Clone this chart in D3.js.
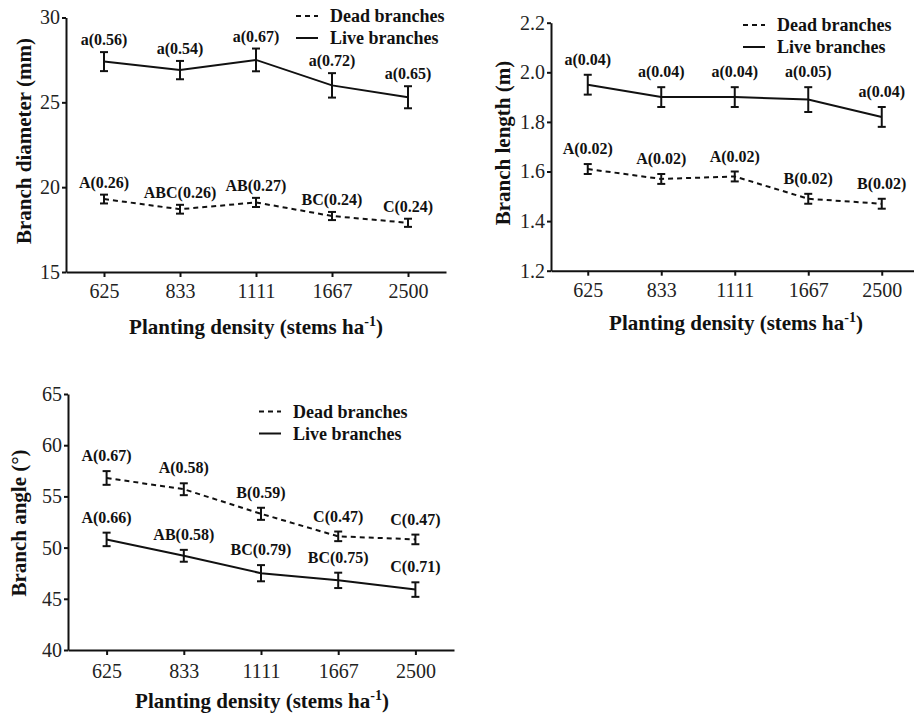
<!DOCTYPE html>
<html>
<head>
<meta charset="utf-8">
<script src="https://cdn.jsdelivr.net/npm/d3@7"></script>
<style>
    body { margin: 0; background: #fff; }
    svg { display: block; }
    svg text { font-family: "Liberation Serif", "Times New Roman", Times, "DejaVu Serif", serif; }
</style>
</head>
<body>
<svg id="drawing_region"></svg>
<script>
// planting densities (stems ha-1)
const densities = ['625', '833', '1111', '1667', '2500'];

// branch diameter (mm)
const diameterLive = [27.4, 26.9, 27.5, 26.0, 25.3];
const diameterLiveSE = [0.56, 0.54, 0.67, 0.72, 0.65];
const diameterLiveLetters = ['a', 'a', 'a', 'a', 'a'];
const diameterDead = [19.3, 18.7, 19.1, 18.3, 17.9];
const diameterDeadSE = [0.26, 0.26, 0.27, 0.24, 0.24];
const diameterDeadLetters = ['A', 'ABC', 'AB', 'BC', 'C'];
const diameterTicks = [15, 20, 25, 30];

// branch length (m)
const lengthLive = [1.95, 1.90, 1.90, 1.89, 1.82];
const lengthLiveSE = [0.04, 0.04, 0.04, 0.05, 0.04];
const lengthLiveLetters = ['a', 'a', 'a', 'a', 'a'];
const lengthDead = [1.61, 1.57, 1.58, 1.49, 1.47];
const lengthDeadSE = [0.02, 0.02, 0.02, 0.02, 0.02];
const lengthDeadLetters = ['A', 'A', 'A', 'B', 'B'];
const lengthTicks = [1.2, 1.4, 1.6, 1.8, 2.0, 2.2];

// branch angle (degrees)
const angleLive = [50.8, 49.2, 47.5, 46.8, 45.9];
const angleLiveSE = [0.66, 0.58, 0.79, 0.75, 0.71];
const angleLiveLetters = ['A', 'AB', 'BC', 'BC', 'C'];
const angleDead = [56.8, 55.7, 53.3, 51.1, 50.8];
const angleDeadSE = [0.67, 0.58, 0.59, 0.47, 0.47];
const angleDeadLetters = ['A', 'A', 'B', 'C', 'C'];
const angleTicks = [40, 45, 50, 55, 60, 65];

const seriesNames = ['Dead branches', 'Live branches'];

const serif = '"Liberation Serif", "Times New Roman", Times, "DejaVu Serif", serif';

function makeSeries(values, se, letters) {
    return densities.map((d, i) => ({
        label: d,
        value: values[i],
        se: se[i],
        text: `${letters[i]}(${se[i].toFixed(2)})`
    }));
}

const svg = d3.select('#drawing_region')
    .attr('width', 914)
    .attr('height', 717);

class LinePanel {
    constructor(config, dead, live) {
        this.config = config;
        this.dead = dead;
        this.live = live;
        this.init();
    }

    init() {
        let self = this;
        let c = self.config;

        self.chart = svg.append('g');

        self.xscale = d3.scalePoint()
            .domain(densities)
            .range(c.xrange)
            .padding(0.5);

        self.yscale = d3.scaleLinear()
            .domain(c.ydomain)
            .range(c.yrange);

        self.xaxis = d3.axisBottom(self.xscale)
            .tickSize(5)
            .tickSizeOuter(0)
            .tickPadding(c.xpad);

        self.yaxis = d3.axisLeft(self.yscale)
            .tickValues(c.ticks)
            .tickFormat(c.format)
            .tickSize(4)
            .tickSizeOuter(0)
            .tickPadding(2);

        self.xaxis_group = self.chart.append('g')
            .attr('transform', `translate(0, ${c.yrange[0]})`);
        self.yaxis_group = self.chart.append('g')
            .attr('transform', `translate(${c.xrange[0]}, 0)`);

        // y title
        self.chart.append('text')
            .attr('transform', `translate(${c.ytitle[0]}, ${c.ytitle[1]}) rotate(-90)`)
            .attr('text-anchor', 'middle')
            .style('font-family', serif)
            .attr('font-weight', 'bold')
            .attr('font-size', '21px')
            .attr('fill', '#111')
            .text(c.ylabel);

        // x title with superscript
        let xt = self.chart.append('text')
            .attr('x', c.xtitle[0])
            .attr('y', c.xtitle[1])
            .attr('text-anchor', 'middle')
            .style('font-family', serif)
            .attr('font-weight', 'bold')
            .attr('font-size', '21px')
            .attr('fill', '#111');
        xt.append('tspan').text('Planting density (stems ha');
        xt.append('tspan').attr('dy', -8).attr('font-size', '14px').text('-1');
        xt.append('tspan').attr('dy', 8).text(')');

        // legend
        let lg = self.chart.append('g')
            .attr('transform', `translate(${c.legend[0]}, ${c.legend[1]})`);
        seriesNames.forEach((name, i) => {
            lg.append('line')
                .attr('x1', 0).attr('x2', 22)
                .attr('y1', i * 22).attr('y2', i * 22)
                .attr('stroke', '#111')
                .attr('stroke-width', 2)
                .attr('stroke-dasharray', i == 0 ? '5,4' : null);
            lg.append('text')
                .attr('x', 34)
                .attr('y', i * 22 + 6)
                .style('font-family', serif)
                .attr('font-weight', 'bold')
                .attr('font-size', '18px')
                .attr('fill', '#111')
                .text(name);
        });
    }

    render() {
        let self = this;
        let c = self.config;

        self.xaxis_group.call(self.xaxis);
        self.yaxis_group.call(self.yaxis);

        svg.selectAll('.domain, .tick line')
            .attr('stroke', '#111')
            .attr('stroke-width', 2);
        svg.selectAll('.tick text')
            .style('font-family', serif)
            .attr('font-size', '20px')
            .attr('fill', '#222');

        const line = d3.line()
            .x(d => self.xscale(d.label))
            .y(d => self.yscale(d.value));

        [self.dead, self.live].forEach((data, k) => {
            let g = self.chart.append('g');

            g.append('path')
                .datum(data)
                .attr('d', line)
                .attr('fill', 'none')
                .attr('stroke', '#111')
                .attr('stroke-width', 2)
                .attr('stroke-dasharray', k == 0 ? '5,4' : null);

            let bars = g.selectAll('.err').data(data).join('g')
                .attr('class', 'err')
                .attr('stroke', '#111')
                .attr('stroke-width', 2);
            bars.append('line')
                .attr('x1', d => self.xscale(d.label))
                .attr('x2', d => self.xscale(d.label))
                .attr('y1', d => self.yscale(d.value - d.se))
                .attr('y2', d => self.yscale(d.value + d.se));
            bars.append('line')
                .attr('x1', d => self.xscale(d.label) - 4)
                .attr('x2', d => self.xscale(d.label) + 4)
                .attr('y1', d => self.yscale(d.value + d.se))
                .attr('y2', d => self.yscale(d.value + d.se));
            bars.append('line')
                .attr('x1', d => self.xscale(d.label) - 4)
                .attr('x2', d => self.xscale(d.label) + 4)
                .attr('y1', d => self.yscale(d.value - d.se))
                .attr('y2', d => self.yscale(d.value - d.se));

            g.selectAll('.lab').data(data).join('text')
                .attr('class', 'lab')
                .attr('x', d => self.xscale(d.label))
                .attr('y', d => self.yscale(d.value + d.se) - c.labelGap)
                .attr('text-anchor', 'middle')
                .style('font-family', serif)
                .attr('font-weight', 'bold')
                .attr('font-size', '16px')
                .attr('fill', '#111')
                .text(d => d.text);
        });
    }
}

const p1 = new LinePanel({
    xrange: [66, 446], yrange: [272, 17.5], ydomain: [15, 30],
    ticks: diameterTicks, format: d3.format('d'), xpad: 7,
    ylabel: 'Branch diameter (mm)', ytitle: [31, 141], xtitle: [256, 334],
    legend: [296, 16], labelGap: 7
}, makeSeries(diameterDead, diameterDeadSE, diameterDeadLetters),
   makeSeries(diameterLive, diameterLiveSE, diameterLiveLetters));
p1.render();

const p2 = new LinePanel({
    xrange: [551, 918.5], yrange: [270.7, 22.7], ydomain: [1.2, 2.2],
    ticks: lengthTicks, format: d3.format('.1f'), xpad: 7,
    ylabel: 'Branch length (m)', ytitle: [510, 143], xtitle: [736, 330],
    legend: [743, 25], labelGap: 10
}, makeSeries(lengthDead, lengthDeadSE, lengthDeadLetters),
   makeSeries(lengthLive, lengthLiveSE, lengthLiveLetters));
p2.render();

const p3 = new LinePanel({
    xrange: [68, 454], yrange: [650, 394], ydomain: [40, 65],
    ticks: angleTicks, format: d3.format('d'), xpad: 9,
    ylabel: 'Branch angle (°)', ytitle: [26, 523], xtitle: [262, 708],
    legend: [259, 411.5], labelGap: 10
}, makeSeries(angleDead, angleDeadSE, angleDeadLetters),
   makeSeries(angleLive, angleLiveSE, angleLiveLetters));
p3.render();
</script>
</body>
</html>
